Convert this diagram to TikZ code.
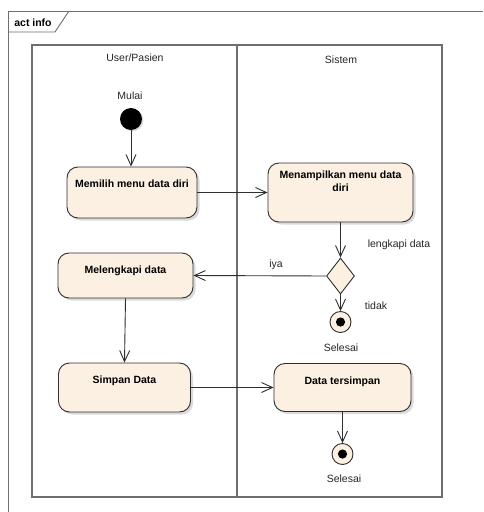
\documentclass[tikz,border=0pt]{standalone}
\usepackage{fontspec}
\setmainfont{Liberation Sans}
\usetikzlibrary{arrows.meta,shapes.geometric,shadows}

\definecolor{actfill}{HTML}{FBF0E1}
\definecolor{laneline}{HTML}{6E6E6E}
\definecolor{edgeline}{HTML}{2E2E2E}

\tikzset{
  lane/.style={draw=laneline, line width=1.4pt},
  frameline/.style={draw=laneline, line width=0.9pt},
  actbox/.style={draw=edgeline, line width=0.9pt, fill=actfill, rounded corners=11pt,
    inner sep=0pt,
    drop shadow={shadow xshift=2.5pt, shadow yshift=-2.5pt, fill=black!28}},
  acttext/.style={anchor=center, font=\fontsize{10.5}{13}\selectfont\bfseries,
    text height=8pt, text depth=0pt, align=center, inner sep=0pt},
  startnode/.style={circle, fill=black, inner sep=0pt, minimum size=22pt,
    drop shadow={shadow xshift=1.5pt, shadow yshift=-1.5pt, fill=black!25}},
  endnode/.style={circle, draw=edgeline, line width=0.9pt, fill=actfill, inner sep=0pt,
    minimum size=21pt,
    path picture={\fill[black] (path picture bounding box.center) circle (4.6pt);}},
  decision/.style={diamond, draw=edgeline, line width=0.9pt, fill=actfill, inner sep=0pt,
    minimum width=28pt, minimum height=36pt, aspect=0.78},
  flow/.style={draw=edgeline, line width=0.9pt,
    -{Straight Barb[length=11pt, width=10pt, line width=0.9pt]}},
  plain/.style={font=\fontsize{10.5}{13}\selectfont, text=black!85, inner sep=0pt,
    text height=8pt, text depth=0pt}
}

\begin{document}
\begin{tikzpicture}[x=1pt, y=-1pt]
  \useasboundingbox (0,0) rectangle (483,512);
  \fill[white] (0,0) rectangle (483,512);

  % diagram frame with its name tab
  \draw[frameline] (483,11) -- (8,11) -- (8,512);
  \draw[frameline] (8,32) -- (55,32) -- (69,11);
  \node[plain, font=\fontsize{10.5}{13}\selectfont\bfseries, text=black] (frametitle) at (33,22) {act info};

  % swimlanes
  \draw[lane] (32,45) rectangle (237,497);
  \draw[lane] (237,45) rectangle (442,497);
  \node[plain] (laneuser) at (135,57) {User/Pasien};
  \node[plain] (lanesys) at (341,59) {Sistem};

  % start
  \node[plain] (startlbl) at (130,95) {Mulai};
  \node[startnode] (start) at (131,119) {};

  % actions
  \node[actbox, minimum width=130pt, minimum height=51pt,
    label={[acttext, yshift=-17pt]north:Memilih menu data diri}] (pilih) at (132,192.5) {};
  \node[actbox, minimum width=145pt, minimum height=59pt,
    label={[acttext, yshift=-24.5pt]north:Menampilkan menu data\\diri}] (tampil) at (340.5,192.5) {};
  \node[decision] (cek) at (340.5,276) {};
  \node[actbox, minimum width=135pt, minimum height=45pt,
    label={[acttext, yshift=-17pt]north:Melengkapi data}] (lengkap) at (125.5,275.5) {};
  \node[endnode] (selesai1) at (340.5,322) {};
  \node[plain] (selesai1lbl) at (341,347) {Selesai};
  \node[actbox, minimum width=132pt, minimum height=49pt,
    label={[acttext, yshift=-17pt]north:Simpan Data}] (simpan) at (124.5,387.5) {};
  \node[actbox, minimum width=137pt, minimum height=48pt,
    label={[acttext, yshift=-17pt]north:Data tersimpan}] (tersimpan) at (342.5,387.5) {};
  \node[endnode] (selesai2) at (342.5,454) {};
  \node[plain] (selesai2lbl) at (344,478) {Selesai};

  % guard labels
  \node[plain] (glengkapi) at (399,243) {lengkapi data};
  \node[plain] (giya) at (276,263) {iya};
  \node[plain] (gtidak) at (376,305) {tidak};

  % control flows
  \draw[flow] (start) -- (start |- pilih.north);
  \draw[flow] (pilih.east) -- (tampil.west);
  \draw[flow] (tampil.south) -- (cek.north);
  \draw[flow] (cek.west) -- (lengkap.east);
  \draw[flow] (cek.south) -- (selesai1.north);
  \draw[flow] (lengkap.south) -- (simpan.north);
  \draw[flow] (simpan.east) -- (tersimpan.west);
  \draw[flow] (tersimpan.south) -- (selesai2.north);
\end{tikzpicture}
\end{document}
